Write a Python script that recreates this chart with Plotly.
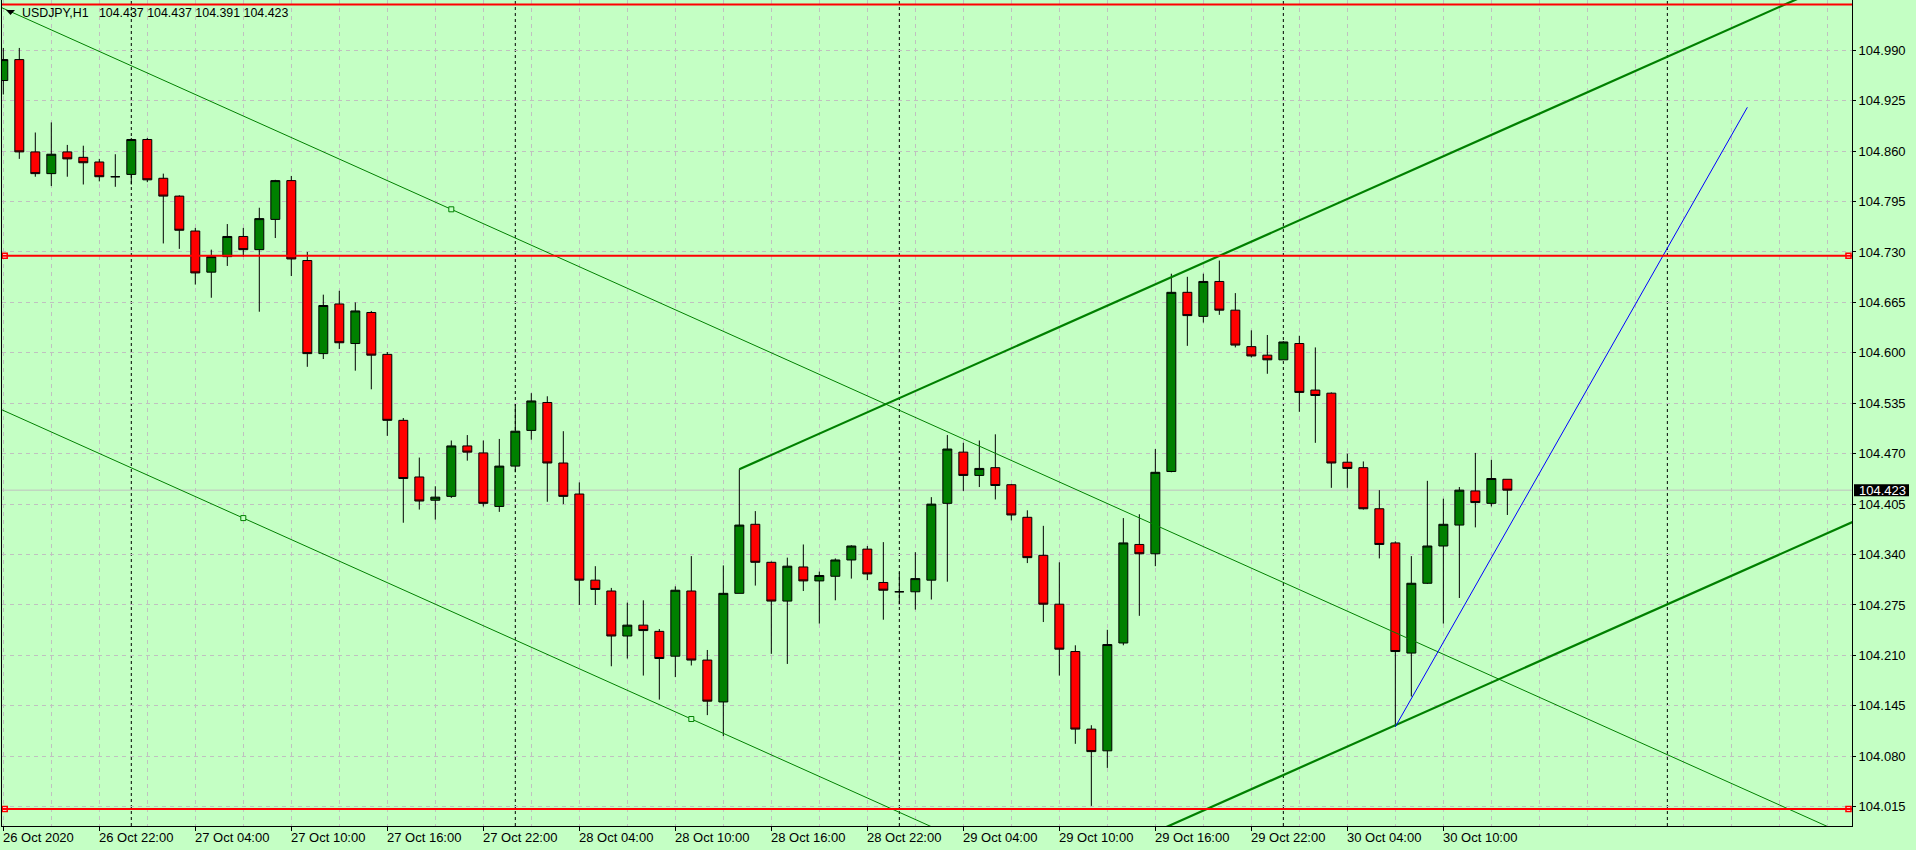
import pandas as pd
import plotly.graph_objects as go

# ---------------- data ----------------
symbol = "USDJPY,H1"
first_bar_time = "2020-10-26 16:00"

opens = [104.951, 104.978, 104.859, 104.831, 104.859, 104.852, 104.846, 104.827, 104.830, 104.875,
         104.825, 104.802, 104.757, 104.704, 104.724, 104.750, 104.733, 104.772, 104.822, 104.719,
         104.599, 104.663, 104.612, 104.652, 104.598, 104.513, 104.440, 104.410, 104.415, 104.480,
         104.471, 104.402, 104.454, 104.500, 104.536, 104.458, 104.418, 104.307, 104.293, 104.235,
         104.249, 104.241, 104.209, 104.293, 104.204, 104.150, 104.290, 104.379, 104.330, 104.280,
         104.324, 104.306, 104.312, 104.333, 104.347, 104.304, 104.292, 104.292, 104.307, 104.406,
         104.472, 104.442, 104.452, 104.430, 104.388, 104.339, 104.276, 104.215, 104.115, 104.087,
         104.226, 104.353, 104.341, 104.447, 104.678, 104.647, 104.692, 104.655, 104.608, 104.597,
         104.591, 104.612, 104.552, 104.548, 104.459, 104.452, 104.399, 104.355, 104.213, 104.303,
         104.351, 104.378, 104.422, 104.406, 104.437]
highs = [104.993, 104.993, 104.884, 104.897, 104.868, 104.867, 104.850, 104.856, 104.877, 104.877,
         104.831, 104.803, 104.761, 104.733, 104.766, 104.761, 104.787, 104.823, 104.828, 104.730,
         104.675, 104.680, 104.665, 104.654, 104.601, 104.516, 104.465, 104.428, 104.487, 104.494,
         104.487, 104.489, 104.534, 104.548, 104.544, 104.499, 104.433, 104.325, 104.297, 104.278,
         104.281, 104.244, 104.299, 104.338, 104.217, 104.326, 104.450, 104.396, 104.331, 104.336,
         104.353, 104.318, 104.335, 104.352, 104.351, 104.356, 104.317, 104.343, 104.414, 104.494,
         104.484, 104.487, 104.495, 104.431, 104.397, 104.377, 104.330, 104.223, 104.120, 104.243,
         104.387, 104.392, 104.476, 104.702, 104.698, 104.702, 104.719, 104.677, 104.629, 104.623,
         104.615, 104.622, 104.607, 104.549, 104.470, 104.460, 104.423, 104.357, 104.338, 104.435,
         104.412, 104.427, 104.471, 104.462, 104.437]
lows = [104.933, 104.850, 104.827, 104.815, 104.827, 104.817, 104.821, 104.814, 104.817, 104.820,
        104.741, 104.734, 104.688, 104.671, 104.712, 104.724, 104.653, 104.748, 104.699, 104.582,
        104.592, 104.605, 104.577, 104.553, 104.493, 104.381, 104.398, 104.385, 104.413, 104.461,
        104.402, 104.395, 104.446, 104.488, 104.408, 104.405, 104.275, 104.275, 104.196, 104.206,
        104.184, 104.153, 104.182, 104.197, 104.133, 104.106, 104.290, 104.300, 104.212, 104.199,
        104.293, 104.251, 104.281, 104.309, 104.307, 104.256, 104.276, 104.269, 104.282, 104.305,
        104.422, 104.427, 104.411, 104.384, 104.329, 104.253, 104.184, 104.096, 104.016, 104.065,
        104.223, 104.261, 104.325, 104.446, 104.609, 104.639, 104.649, 104.607, 104.594, 104.573,
        104.591, 104.524, 104.484, 104.426, 104.426, 104.398, 104.335, 104.118, 104.157, 104.302,
        104.251, 104.284, 104.375, 104.402, 104.391]
closes = [104.978, 104.859, 104.831, 104.856, 104.850, 104.845, 104.827, 104.827, 104.875, 104.823,
          104.802, 104.758, 104.703, 104.724, 104.750, 104.733, 104.773, 104.822, 104.721, 104.599,
          104.661, 104.613, 104.654, 104.597, 104.513, 104.438, 104.409, 104.414, 104.480, 104.472,
          104.406, 104.454, 104.499, 104.538, 104.458, 104.415, 104.307, 104.295, 104.235, 104.249,
          104.242, 104.206, 104.294, 104.204, 104.151, 104.290, 104.378, 104.330, 104.280, 104.325,
          104.306, 104.313, 104.333, 104.351, 104.315, 104.294, 104.292, 104.309, 104.405, 104.476,
          104.442, 104.451, 104.429, 104.391, 104.336, 104.276, 104.218, 104.115, 104.086, 104.224,
          104.355, 104.341, 104.446, 104.678, 104.648, 104.692, 104.655, 104.610, 104.596, 104.591,
          104.614, 104.549, 104.545, 104.458, 104.451, 104.399, 104.353, 104.215, 104.303, 104.351,
          104.379, 104.423, 104.407, 104.438, 104.423]

price_ticks = [104.015, 104.080, 104.145, 104.210, 104.275, 104.340, 104.405, 104.470,
               104.535, 104.600, 104.665, 104.730, 104.795, 104.860, 104.925, 104.990]

# horizontal lines (price)
red_levels = [105.049, 104.725, 104.012]
red_levels_marked = [104.725, 104.012]

# equidistant channel 1 (thin): base anchors (bar, price) and parallel anchor
thin_base = [(15, 104.387), (43, 104.128)]
thin_par = (28, 104.785)
# equidistant channel 2 (thick)
thick_base = [(46, 104.450), (76, 104.725)]
thick_par = (87, 104.120)
# blue trend line
blue_line = [(87, 104.118), (109, 104.9165)]

# ---------------- derived ----------------
n = len(opens)
bars = list(range(n))
times = pd.date_range(first_bar_time, periods=n, freq="h")
future_times = pd.date_range(first_bar_time, periods=120, freq="h")

X_RANGE = [-0.081, 115.54]
Y_RANGE = [103.9901, 105.0548]

BG = "#C4FFC4"
GRID = "#C0C0C0"
GREEN = "#008000"
FONT = "Liberation Sans, Arial, sans-serif"


def line_pts(p, slope, x0, x1):
    return [x0, x1], [p[1] + slope * (x0 - p[0]), p[1] + slope * (x1 - p[0])]


fig = go.Figure()

fig.add_trace(go.Candlestick(
    x=bars, open=opens, high=highs, low=lows, close=closes,
    increasing=dict(line=dict(color="black", width=1), fillcolor=GREEN),
    decreasing=dict(line=dict(color="black", width=1), fillcolor="#FF0000"),
    whiskerwidth=0, showlegend=False, hoverinfo="skip"))

# thin channel
s1 = (thin_base[1][1] - thin_base[0][1]) / (thin_base[1][0] - thin_base[0][0])
for p in (thin_base[0], thin_par):
    xs, ys = line_pts(p, s1, -5, 125)
    fig.add_trace(go.Scatter(x=xs, y=ys, mode="lines", line=dict(color=GREEN, width=1),
                             showlegend=False, hoverinfo="skip"))
fig.add_trace(go.Scatter(x=[p[0] for p in thin_base] + [thin_par[0]],
                         y=[p[1] for p in thin_base] + [thin_par[1]],
                         mode="markers",
                         marker=dict(symbol="square", size=5, color=BG,
                                     line=dict(color=GREEN, width=1)),
                         showlegend=False, hoverinfo="skip"))

# thick channel
s2 = (thick_base[1][1] - thick_base[0][1]) / (thick_base[1][0] - thick_base[0][0])
for p in (thick_base[0], thick_par):
    xs = [thick_base[0][0], 125]
    ys = [p[1] + s2 * (x - p[0]) for x in xs]
    fig.add_trace(go.Scatter(x=xs, y=ys, mode="lines", line=dict(color=GREEN, width=2.2),
                             showlegend=False, hoverinfo="skip"))

# blue trend
fig.add_trace(go.Scatter(x=[p[0] for p in blue_line], y=[p[1] for p in blue_line],
                         mode="lines", line=dict(color="#0000FF", width=1),
                         showlegend=False, hoverinfo="skip"))

# red level markers at the edges
mx = [X_RANGE[0] + 0.17, X_RANGE[1] - 0.22]
fig.add_trace(go.Scatter(x=[v for lv in red_levels_marked for v in mx],
                         y=[lv for lv in red_levels_marked for _ in mx],
                         mode="markers",
                         marker=dict(symbol="square", size=5, color="white",
                                     line=dict(color="#FF0000", width=1.5)),
                         showlegend=False, hoverinfo="skip"))

shapes = []
# day separators
for i, t in enumerate(future_times):
    if t.hour == 0:
        shapes.append(dict(type="line", xref="x", yref="paper", x0=i, x1=i, y0=0, y1=1,
                           line=dict(color="black", width=1, dash="3px,3px"), layer="between"))
# bid line
shapes.append(dict(type="line", xref="paper", yref="y", x0=0, x1=1, y0=closes[-1], y1=closes[-1],
                   line=dict(color=GRID, width=1), layer="between"))
# red levels
for lv in red_levels:
    shapes.append(dict(type="line", xref="paper", yref="y", x0=0, x1=1, y0=lv, y1=lv,
                       line=dict(color="#FF0000", width=2), layer="above"))
# price box
shapes.append(dict(type="rect", xref="paper", yref="y", xsizemode="pixel", ysizemode="pixel",
                   xanchor=1, yanchor=closes[-1], x0=2, x1=57, y0=-6, y1=6,
                   fillcolor="black", line=dict(width=0), layer="above"))
# title triangle
shapes.append(dict(type="path", xref="paper", yref="paper", xsizemode="pixel", ysizemode="pixel",
                   xanchor=0, yanchor=1, path="M 4 -10 L 13 -10 L 8.5 -15 Z",
                   fillcolor="black", line=dict(width=0), layer="above"))

annotations = []
label_bars = list(range(0, n, 6))
for i in label_bars:
    txt = times[i].strftime("%d %b %Y") if i == 0 else times[i].strftime("%d %b %H:%M")
    annotations.append(dict(x=i, xref="x", y=0, yref="paper", text=txt, showarrow=False,
                            xanchor="left", yanchor="top", xshift=-2, yshift=-2,
                            font=dict(family=FONT, size=13, color="black")))
annotations.append(dict(x=0, xref="paper", y=1, yref="paper", xanchor="left", yanchor="top",
                        xshift=18, yshift=-4, showarrow=False,
                        text=f"{symbol}\u00a0\u00a0\u00a0{opens[-1]:.3f} {highs[-1]:.3f} {lows[-1]:.3f} {closes[-1]:.3f}",
                        font=dict(family=FONT, size=12.4, color="black")))
annotations.append(dict(x=1, xref="paper", y=closes[-1], yref="y", xanchor="left", yanchor="middle",
                        xshift=5, showarrow=False, text=f"{closes[-1]:.3f}",
                        font=dict(family=FONT, size=13, color="white")))

fig.update_layout(
    width=1916, height=850,
    margin=dict(l=2, r=64, t=0, b=24, pad=0),
    paper_bgcolor=BG, plot_bgcolor=BG,
    showlegend=False,
    shapes=shapes, annotations=annotations,
    boxgap=0.44, boxgroupgap=0,
    hovermode=False,
    xaxis=dict(range=X_RANGE, rangeslider=dict(visible=False), showgrid=False, zeroline=False,
               tickvals=label_bars, showticklabels=False, ticks="outside", ticklen=4,
               tickcolor="black", showline=True, linecolor="black", linewidth=1, mirror=False,
               minor=dict(tickvals=list(range(0, 118, 3)), showgrid=True, gridcolor=GRID,
                          griddash="4px,4px", gridwidth=1, ticks="")),
    yaxis=dict(range=Y_RANGE, side="right", tickvals=price_ticks,
               ticktext=[f"{v:.3f}" for v in price_ticks],
               showgrid=True, gridcolor=GRID, griddash="4px,4px", gridwidth=1, zeroline=False,
               ticks="outside", ticklen=3, tickcolor="black", showline=True, linecolor="black",
               linewidth=1, mirror=True,
               tickfont=dict(family=FONT, size=13, color="black")),
)

fig.write_html("out.html", config={"displayModeBar": False},
               post_script="document.body.style.margin='0';document.body.style.overflow='hidden';document.documentElement.style.overflow='hidden';")
